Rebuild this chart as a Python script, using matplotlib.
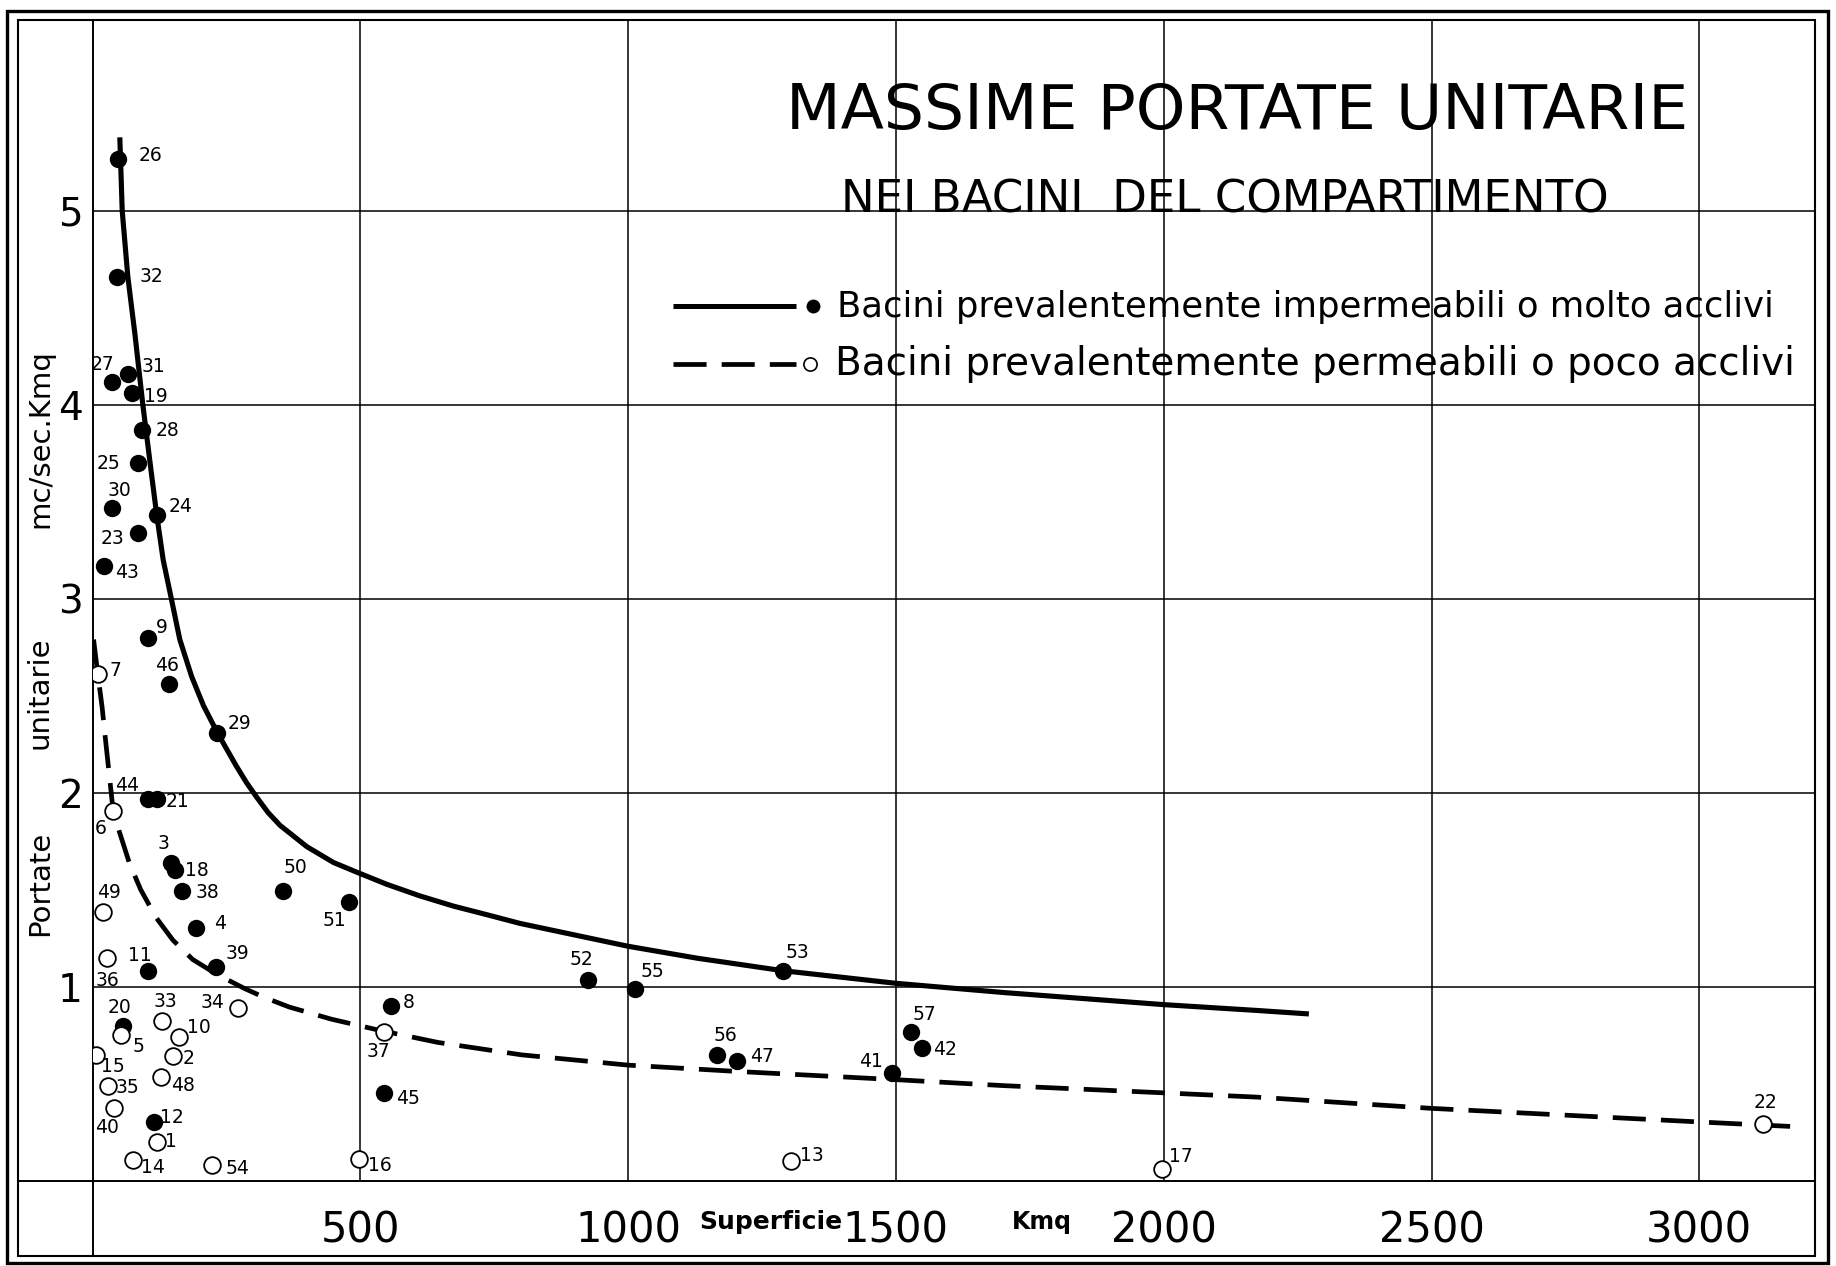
import matplotlib
matplotlib.use("Agg")
import matplotlib.pyplot as plt
from matplotlib.lines import Line2D
from matplotlib.patches import Rectangle

plt.rcParams['font.family'] = ['DejaVu Sans']

# ---------------- data ----------------
# Bacini prevalentemente impermeabili o molto acclivi (filled dots)
imp_ids = [26, 32, 27, 31, 19, 28, 25, 30, 24, 23, 43, 9, 46, 29, 44, 21,
           3, 18, 38, 50, 51, 4, 11, 39, 52, 55, 53, 8, 20, 45, 12,
           56, 47, 41, 57, 42]
imp_x = [48, 46, 37, 66, 74, 92, 85, 37, 120, 85, 21, 103, 143, 233, 103, 120,
         146, 154, 168, 355, 478, 193, 104, 231, 925, 1013, 1290, 557, 57, 544, 114,
         1166, 1204, 1492, 1528, 1548]
imp_y = [5.27, 4.66, 4.12, 4.16, 4.06, 3.87, 3.70, 3.47, 3.43, 3.34, 3.17, 2.80, 2.56, 2.31, 1.97, 1.97,
         1.636, 1.60, 1.495, 1.495, 1.438, 1.30, 1.08, 1.10, 1.033, 0.987, 1.08, 0.90, 0.795, 0.449, 0.302,
         0.649, 0.614, 0.555, 0.768, 0.684]

# Bacini prevalentemente permeabili o poco acclivi (open circles)
perm_ids = [7, 6, 49, 36, 34, 5, 33, 10, 37, 15, 2, 35, 48, 40, 1, 14, 54, 16, 13, 17, 22]
perm_x = [10, 38, 20, 28, 272, 54, 129, 162, 545, 7, 151, 29, 128, 40, 121, 76, 224, 498, 1305, 1996, 3118]
perm_y = [2.61, 1.905, 1.386, 1.146, 0.89, 0.752, 0.824, 0.742, 0.766, 0.647, 0.643, 0.489, 0.533,
          0.374, 0.199, 0.104, 0.082, 0.113, 0.10, 0.06, 0.29]

# envelope curves
curve_imp_x = [51, 55.5, 66, 79, 94, 108, 120, 132, 148, 163, 185, 207, 233, 268, 288, 307, 328,
               350, 400, 450, 497, 549, 611, 674, 736, 798, 1000, 1130, 1289, 1500, 1703, 2000,
               2174, 2271]
curve_imp_y = [5.38, 5.00, 4.66, 4.37, 4.00, 3.69, 3.43, 3.20, 2.99, 2.79, 2.60, 2.45, 2.31, 2.14,
               2.05, 1.975, 1.897, 1.832, 1.722, 1.64, 1.586, 1.528, 1.468, 1.415, 1.371, 1.326,
               1.208, 1.146, 1.082, 1.017, 0.969, 0.907, 0.877, 0.859]
curve_perm_x = [2, 10, 18, 24, 31, 38, 50, 69, 90, 119, 150, 187, 231, 284, 320, 367, 446, 532,
                645, 801, 1000, 1206, 1500, 1703, 2000, 2174, 2500, 3000, 3191]
curve_perm_y = [2.79, 2.61, 2.44, 2.28, 2.10, 1.92, 1.80, 1.636, 1.50, 1.355, 1.24, 1.14, 1.065,
                0.99, 0.945, 0.895, 0.832, 0.777, 0.712, 0.648, 0.595, 0.562, 0.52, 0.489, 0.452,
                0.43, 0.372, 0.302, 0.276]

x_ticks = [500, 1000, 1500, 2000, 2500, 3000]
y_ticks = [1, 2, 3, 4, 5]
x_tick_labels = ['500', '1000', '1500', '2000', '2500', '3000']
y_tick_labels = ['1', '2', '3', '4', '5']

title = 'MASSIME PORTATE UNITARIE'
subtitle = 'NEI BACINI  DEL COMPARTIMENTO'
legend_labels = ['Bacini prevalentemente impermeabili o molto acclivi',
                 'Bacini prevalentemente permeabili o poco acclivi']

# ---------------- layout (label offsets in points) ----------------
label_offsets = {
    26: (23, 2.5), 32: (25, 0), 27: (-7, 12), 31: (18.5, 5), 19: (17, -2), 28: (18.5, 0),
    25: (-21, 0), 30: (5, 12.6), 24: (17, 6.7), 23: (-18.5, -4), 43: (17, -5), 9: (10, 7.6),
    46: (-1.7, 13.5), 7: (12.6, 2.5), 29: (16, 6.7), 44: (-15, 9.7), 6: (-9, -12.6), 21: (15, -2),
    3: (-5, 14), 18: (16, 0), 38: (17.7, -1.7), 50: (9, 17), 51: (-10, -13.5), 49: (4, 14),
    4: (17.7, 3.4), 36: (0, -16), 11: (-6, 11), 39: (15, 10), 52: (-5, 15), 55: (12.6, 12.6),
    53: (10, 13.5), 34: (-18.5, 4), 8: (12.6, 2.5), 20: (-2.5, 13.5), 33: (2.5, 13.5),
    10: (14, 6.7), 5: (12.6, -8.4), 37: (-4, -14), 57: (10, 12.6), 42: (17, -1),
    15: (11.8, -8.4), 2: (11, -1.7), 56: (6, 13.5), 47: (17.7, 3.4), 41: (-15, 8.4),
    35: (14, -1), 48: (16, -6), 45: (17.7, -3.4), 40: (-5, -14), 12: (13.5, 3.4), 1: (10, 0),
    14: (14, -5), 54: (17.7, -2.5), 16: (15, -5), 13: (15, 4), 17: (14, 9), 22: (2.5, 16),
}

W, H = 1836, 1266
fig = plt.figure(figsize=(W / 100, H / 100), dpi=100)
fig.patch.set_facecolor('white')

def fx(px):
    return px / W

def fy(py):
    return 1 - py / H

x0_px, y0_px = 92.5, 1180.5
right_px, top_px = 1815.0, 20.0
px_per_x = 0.5356
px_per_y = 193.9

ax = fig.add_axes([fx(x0_px), fy(y0_px), fx(right_px) - fx(x0_px), fy(top_px) - fy(y0_px)])
ax.set_xlim(0, (right_px - x0_px) / px_per_x)
ax.set_ylim(0, (y0_px - top_px) / px_per_y)

ax.set_xticks(x_ticks)
ax.set_xticklabels(x_tick_labels)
ax.set_yticks(y_ticks)
ax.set_yticklabels(y_tick_labels)
ax.tick_params(axis='x', length=0, pad=21, labelsize=30)
ax.tick_params(axis='y', length=0, pad=7, labelsize=28)
ax.grid(True, color='black', linewidth=1.1, zorder=0)
ax.set_axisbelow(True)
for s in ax.spines.values():
    s.set_color('black')
    s.set_linewidth(1.4)

# curves
ax.plot(curve_imp_x, curve_imp_y, color='black', lw=3.7, solid_capstyle='butt',
        solid_joinstyle='round', zorder=2)
ax.plot(curve_perm_x, curve_perm_y, color='black', lw=3.4, dashes=(7, 3.2),
        dash_capstyle='butt', zorder=2)

# points
ax.plot(imp_x, imp_y, 'o', color='black', ms=12.5, mew=0, zorder=3)
ax.plot(perm_x, perm_y, 'o', mfc='white', mec='black', ms=12, mew=1.3, zorder=3)

for ids, xs, ys in ((imp_ids, imp_x, imp_y), (perm_ids, perm_x, perm_y)):
    for i, x, y in zip(ids, xs, ys):
        ax.annotate(str(i), (x, y), xytext=label_offsets[i], textcoords='offset points',
                    ha='center', va='center', fontsize=13.5, zorder=4)

# axis titles
fig.text(fx(40), fy(883), 'Portate', rotation=90, ha='center', va='center', fontsize=21)
fig.text(fx(40), fy(693), 'unitarie', rotation=90, ha='center', va='center', fontsize=21)
fig.text(fx(40), fy(439), 'mc/sec.Kmq', rotation=90, ha='center', va='center', fontsize=21)
fig.text(fx(771), fy(1222), 'Superficie', ha='center', va='center', fontsize=18, fontweight='bold')
fig.text(fx(1042), fy(1222), 'Kmq', ha='center', va='center', fontsize=17, fontweight='bold')

# title
fig.text(fx(1237), fy(112), title, ha='center', va='center', fontsize=45.5)
fig.text(fx(1225), fy(200), subtitle, ha='center', va='center', fontsize=32.5)

# legend (drawn by hand to match the original layout)
fig.add_artist(Line2D([fx(673), fx(796)], [fy(306), fy(306)], color='black', lw=3.6,
                      solid_capstyle='butt'))
fig.add_artist(Line2D([fx(813)], [fy(306)], marker='o', color='black', ms=10, mew=0, ls='none'))
fig.text(fx(837), fy(317), legend_labels[0], ha='left', va='baseline', fontsize=25.5)
fig.add_artist(Line2D([fx(673), fx(796)], [fy(364), fy(364)], color='black', lw=3.4,
                      dashes=(7, 3.2), dash_capstyle='butt'))
fig.add_artist(Line2D([fx(810)], [fy(364)], marker='o', mfc='white', mec='black', ms=9.5,
                      mew=1.2, ls='none'))
fig.text(fx(835), fy(375), legend_labels[1], ha='left', va='baseline', fontsize=28)

# frame lines of the sheet
fig.add_artist(Line2D([fx(x0_px), fx(x0_px)], [fy(y0_px), fy(1256)], color='black', lw=1.4))
fig.add_artist(Line2D([fx(18), fx(x0_px)], [fy(y0_px), fy(y0_px)], color='black', lw=1.4))
fig.add_artist(Rectangle((fx(18), fy(1256)), fx(right_px) - fx(18), fy(20) - fy(1256),
                         transform=fig.transFigure, fill=False, ec='black', lw=1.5))
fig.add_artist(Rectangle((fx(7), fy(1263)), fx(1828) - fx(7), fy(11) - fy(1263),
                         transform=fig.transFigure, fill=False, ec='black', lw=2.4))

fig.savefig('out.png', dpi=100, facecolor='white')
